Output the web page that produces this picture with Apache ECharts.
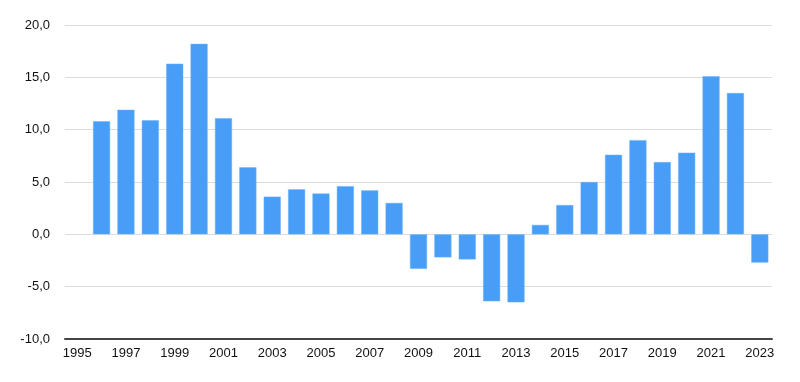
<!DOCTYPE html>
<html>
<head>
<meta charset="utf-8">
<script src="https://cdn.jsdelivr.net/npm/echarts@6/dist/echarts.min.js"></script>
<style>html,body{margin:0;padding:0;background:#fff}#c{width:800px;height:382px}</style>
</head>
<body>
<div id="c"></div>
<script>
const years = ['1995','1996','1997','1998','1999','2000','2001','2002','2003','2004','2005','2006','2007','2008','2009','2010','2011','2012','2013','2014','2015','2016','2017','2018','2019','2020','2021','2022','2023'];
const values = [null,10.8,11.9,10.9,16.3,18.2,11.1,6.4,3.6,4.3,3.9,4.6,4.2,3.0,-3.3,-2.2,-2.4,-6.4,-6.5,0.9,2.8,5.0,7.6,9.0,6.9,7.8,15.1,13.5,-2.7];

const chart = echarts.init(document.getElementById('c'), null, {renderer:'canvas'});
chart.setOption({
  animation:false,
  grid:{left:65,right:28,top:25,bottom:43,containLabel:false},
  xAxis:{
    type:'category',
    data:years,
    axisLine:{onZero:false,lineStyle:{color:'#444',width:2}},
    axisTick:{show:false},
    axisLabel:{interval:1,color:'#111',fontFamily:'Liberation Sans, Arial, sans-serif',fontSize:13,margin:8}
  },
  yAxis:{
    type:'value',
    min:-10,max:20,interval:5,
    axisLine:{show:false},
    axisTick:{show:false},
    splitLine:{lineStyle:{color:'#dcdcdc',width:1}},
    axisLabel:{color:'#111',fontFamily:'Liberation Sans, Arial, sans-serif',fontSize:13,margin:15,
      formatter:v=>v.toFixed(1).replace('.',',')}
  },
  series:[{
    type:'bar',
    data:values,
    barCategoryGap:'30%',
    itemStyle:{color:'#489ef6',borderColor:'#6cb2f8',borderWidth:0.5}
  }]
});
</script>
</body>
</html>
